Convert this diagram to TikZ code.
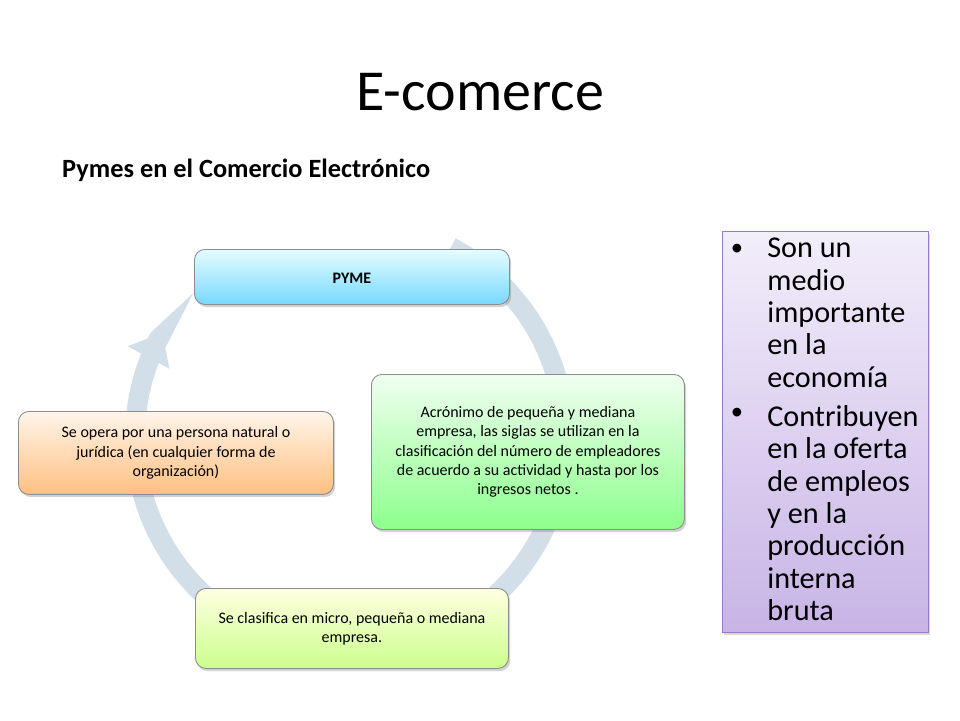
\documentclass[tikz,border=0pt]{standalone}
\usepackage{fontspec}
\setmainfont{Carlito}
\usetikzlibrary{arrows.meta,shadows}
\begin{document}
\begin{tikzpicture}[x=0.02cm,y=-0.02cm,
  box/.style={rounded corners=6pt,draw=black!45,line width=0.5pt,align=center,anchor=north west,inner sep=2pt,font=\fontsize{9.1}{11}\selectfont,drop shadow={shadow xshift=1pt,shadow yshift=-1.5pt,opacity=0.35}},
  ring/.style={draw=ringc,line width=11.3pt}]
\definecolor{ringc}{HTML}{D2DFE8}
\definecolor{lavtop}{HTML}{F2EEFA}
\definecolor{lavbot}{HTML}{C8B4E6}
\definecolor{lavdraw}{HTML}{9A78C8}
\useasboundingbox[fill=white] (0,0) rectangle (960,720);
\node (title) at (480,92) {\fontsize{33}{38}\selectfont E-comerce};
\node[anchor=west] (sub) at (56,170) {\fontsize{15}{18}\selectfont\bfseries Pymes en el Comercio Electrónico};
% ring
\draw[ring,-{Triangle[width=26pt,length=16pt]}] plot[domain=62:-209,samples=120,smooth] ({350+215*cos(\x)},{437-215*sin(\x)});
% boxes
\node[box,minimum width=315*0.02cm,minimum height=55*0.02cm,top color=blue!8!cyan!10,bottom color=cyan!45!white!85!blue,text height=1.5ex] (pyme) at (194,249) {\textbf{PYME}};
\node[box,minimum width=313*0.02cm,minimum height=155*0.02cm,top color=green!6,bottom color=green!45!white] (green) at (371,374) {Acrónimo de pequeña y mediana\\empresa, las siglas se utilizan en la\\clasificación del número de empleadores\\de acuerdo a su actividad y hasta por los\\ingresos netos .};
\node[box,minimum width=313*0.02cm,minimum height=80*0.02cm,top color=yellow!12!white,bottom color=yellow!55!green!45!white] (yellow) at (195,588) {Se clasifica en micro, pequeña o mediana\\empresa.};
\node[box,minimum width=315*0.02cm,minimum height=83*0.02cm,top color=orange!8,bottom color=orange!50!white] (orange) at (18,411) {Se opera por una persona natural o\\jurídica (en cualquier forma de\\organización)};
% right box
\node[draw=lavdraw,line width=0.6pt,anchor=north west,minimum width=206*0.02cm,minimum height=401*0.02cm,top color=lavtop,bottom color=lavbot,drop shadow={shadow xshift=1pt,shadow yshift=-1.5pt,opacity=0.3}] (rbox) at (722,231) {};
\node[anchor=north west,align=left,inner sep=0pt,font=\fontsize{17.2}{18.4}\selectfont] (rtext) at (767,238) {Son un\\medio\\importante\\en la\\economía\\[4pt]Contribuyen\\en la oferta\\de empleos\\y en la\\producción\\interna\\bruta};
\node (b1) at (737,250) {\fontsize{14}{14}\selectfont •};
\node (b2) at (737,414) {\fontsize{14}{14}\selectfont •};
\end{tikzpicture}
\end{document}
